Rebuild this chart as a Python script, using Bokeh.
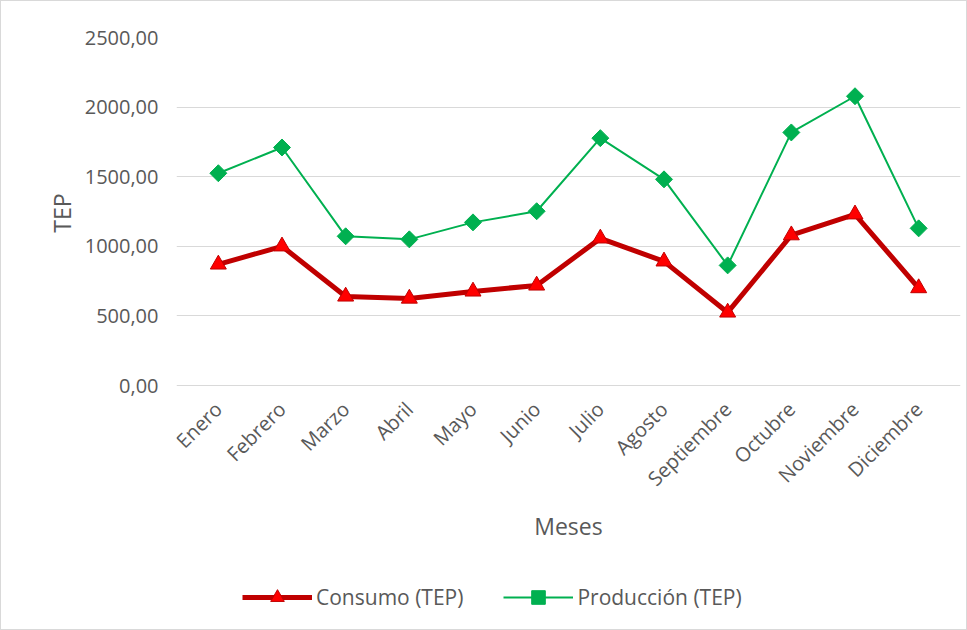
import math
from bokeh.plotting import figure
from bokeh.models import FactorRange, Range1d, FixedTicker, Legend, LegendItem, ColumnDataSource, Title
from bokeh.embed import file_html
from bokeh.resources import INLINE

meses = ["Enero", "Febrero", "Marzo", "Abril", "Mayo", "Junio", "Julio",
         "Agosto", "Septiembre", "Octubre", "Noviembre", "Diciembre"]
consumo = [870, 1000, 640, 625, 676, 719, 1057, 892, 525, 1080, 1230, 700]
produccion = [1525, 1710, 1072, 1050, 1172, 1252, 1777, 1481, 863, 1818, 2078, 1129]
y_ticks = [0, 500, 1000, 1500, 2000, 2500]
y_tick_labels = ["0,00", "500,00", "1000,00", "1500,00", "2000,00", "2500,00"]

FONT = "Open Sans"
GREY = "#595959"

src = ColumnDataSource(dict(mes=meses, consumo=consumo, produccion=produccion))

# The frame extends below the value axis so the legend can sit inside it;
# the category axis is pinned at y = 0.
p = figure(frame_width=784, frame_height=589, output_backend="svg", toolbar_location=None,
           x_range=FactorRange(*meses, range_padding=0.157, range_padding_units="absolute"),
           y_range=Range1d(-1731, 2500),
           min_border_left=175, min_border_right=6, min_border_top=36, min_border_bottom=3)
p.outline_line_color = None
p.styles = {"border": "1px solid #d9d9d9"}

p.xgrid.grid_line_color = None
p.ygrid.grid_line_color = "#d9d9d9"
p.ygrid.grid_line_width = 1
p.ygrid.ticker = FixedTicker(ticks=y_ticks)
p.yaxis.ticker = FixedTicker(ticks=y_ticks)
p.yaxis.major_label_overrides = {t: l for t, l in zip(y_ticks, y_tick_labels)}
p.xaxis.fixed_location = 0

for ax in (p.xaxis[0], p.yaxis[0]):
    ax.axis_line_color = None
    ax.major_tick_line_color = None
    ax.minor_tick_line_color = None
    ax.major_label_text_font = FONT
    ax.major_label_text_color = GREY
    ax.major_label_text_font_size = "20px"
    ax.axis_label_text_font = FONT
    ax.axis_label_text_color = GREY
    ax.axis_label_text_font_size = "23px"
    ax.axis_label_text_font_style = "normal"

p.xaxis.axis_label = "Meses"
p.xaxis.major_label_orientation = math.pi / 4
p.xaxis.major_label_standoff = 14
p.xaxis.axis_label_standoff = 6
p.yaxis.major_label_standoff = 12

# Y-axis title, placed level with the middle of the value axis
p.add_layout(Title(text="TEP", align="right", offset=156, standoff=8,
                   text_font=FONT, text_color=GREY, text_font_size="23px",
                   text_font_style="normal"), "left")

l1 = p.line("mes", "consumo", source=src, line_color="#C00000", line_width=5)
s1 = p.scatter("mes", "consumo", source=src, marker="triangle", size=16,
               fill_color="#FF0000", line_color="#C00000", line_width=1)
l2 = p.line("mes", "produccion", source=src, line_color="#00B050", line_width=2)
s2 = p.scatter("mes", "produccion", source=src, marker="square", size=12, angle=math.pi / 4,
               fill_color="#00B050", line_color="#00B050")

legend = Legend(items=[LegendItem(label="Consumo (TEP)", renderers=[l1, s1]),
                       LegendItem(label="Producción (TEP)", renderers=[l2, s2])],
                orientation="horizontal", location=(66, 12))
legend.label_text_font = FONT
legend.label_text_color = GREY
legend.label_text_font_size = "21px"
legend.glyph_width = 70
legend.glyph_height = 34
legend.label_standoff = 4
legend.spacing = 40
legend.border_line_color = None
legend.background_fill_alpha = 0
legend.padding = 4
legend.margin = 0
p.add_layout(legend, "center")

open("out.html", "w").write(file_html(p, INLINE))
